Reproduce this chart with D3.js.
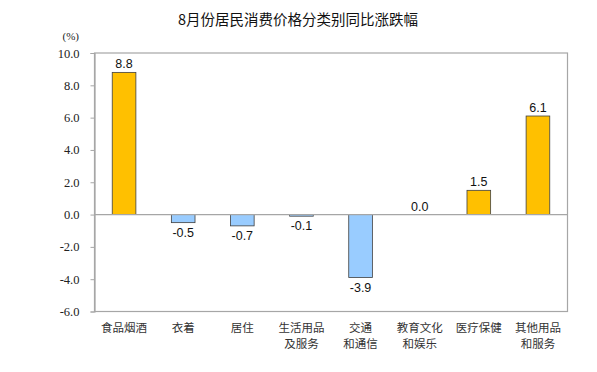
<!DOCTYPE html>
<html>
<head>
<meta charset="utf-8">
<script src="https://cdn.jsdelivr.net/npm/d3@7"></script>
<style>
body { margin: 0; background: #fff; }
</style>
</head>
<body>
<div id="chart"></div>
<script>
var categories = [["食品烟酒"], ["衣着"], ["居住"], ["生活用品", "及服务"], ["交通", "和通信"], ["教育文化", "和娱乐"], ["医疗保健"], ["其他用品", "和服务"]];
var values = [8.8, -0.5, -0.7, -0.1, -3.9, 0.0, 1.5, 6.1];
var yTicks = [10, 8, 6, 4, 2, 0, -2, -4, -6];
var title = "8月份居民消费价格分类别同比涨跌幅";

var width = 597, height = 372;
var margins = { left: 94.5, right: 29.5, top: 53, bottom: 60.5 };

// plain hyphen for negatives, as in the source image
var fmt = function(d) { return d.toFixed(1); };

var svg = d3.select("#chart")
	.append("svg")
	.attr("width", width)
	.attr("height", height)
	.style("background", "#fff");

var x = d3.scaleBand()
	.domain(d3.range(categories.length))
	.range([margins.left, width - margins.right])
	.paddingInner(0.6)
	.paddingOuter(0.3);

var y = d3.scaleLinear()
	.domain([-6, 10])
	.range([height - margins.bottom, margins.top]);

// title
svg.append("text")
	.attr("x", 298)
	.attr("y", 25)
	.attr("text-anchor", "middle")
	.style("font-family", "'Noto Sans CJK SC', sans-serif")
	.style("font-size", "14.5px")
	.style("fill", "#111")
	.text(title);

svg.append("text")
	.attr("x", 79)
	.attr("y", 40)
	.attr("text-anchor", "end")
	.style("font-family", "'Liberation Serif', serif")
	.style("font-size", "11px")
	.style("fill", "#222")
	.text("(%)");

// frame
svg.append("rect")
	.attr("x", margins.left)
	.attr("y", margins.top)
	.attr("width", width - margins.right - margins.left)
	.attr("height", height - margins.bottom - margins.top)
	.style("fill", "none")
	.style("stroke", "#a6a6a6")
	.style("stroke-width", 1.2);

// y axis
var yAxis = svg.append("g")
	.attr("transform", "translate(" + margins.left + ",0)")
	.call(d3.axisLeft(y).tickValues(yTicks).tickSize(4).tickPadding(11).tickFormat(fmt));
yAxis.select(".domain").style("stroke", "#a6a6a6").style("stroke-width", 1.2);
yAxis.selectAll(".tick line").style("stroke", "#a6a6a6");
yAxis.selectAll(".tick text")
	.style("font-family", "'Liberation Serif', serif")
	.style("font-size", "12.5px")
	.style("fill", "#222");

// bars
svg.selectAll(".bar")
	.data(values)
	.enter()
	.append("rect")
	.attr("class", "bar")
	.attr("x", function(d, i) { return x(i); })
	.attr("y", function(d) { return y(Math.max(0, d)); })
	.attr("width", x.bandwidth())
	.attr("height", function(d) { return Math.abs(y(d) - y(0)); })
	.style("fill", function(d) { return d >= 0 ? "#ffc000" : "#99ccff"; })
	.style("stroke", "#404040")
	.style("stroke-width", 0.8)
	.style("display", function(d) { return d === 0 ? "none" : null; });

// zero line
svg.append("line")
	.attr("x1", margins.left)
	.attr("x2", width - margins.right)
	.attr("y1", y(0))
	.attr("y2", y(0))
	.style("stroke", "#a6a6a6")
	.style("stroke-width", 1.2);

// value labels
svg.selectAll(".val")
	.data(values)
	.enter()
	.append("text")
	.attr("class", "val")
	.attr("x", function(d, i) { return x(i) + x.bandwidth() / 2; })
	.attr("y", function(d) { return d >= 0 ? y(d) - 4 : y(d) + 14; })
	.attr("text-anchor", "middle")
	.style("font-family", "'Liberation Sans', Arial, sans-serif")
	.style("font-size", "12.5px")
	.style("fill", "#111")
	.text(fmt);

// category labels
var cat = svg.selectAll(".cat")
	.data(categories)
	.enter()
	.append("text")
	.attr("class", "cat")
	.attr("text-anchor", "middle")
	.style("font-family", "'Noto Sans CJK SC', sans-serif")
	.style("font-size", "11.5px")
	.style("fill", "#333");
cat.selectAll("tspan")
	.data(function(d, i) { return d.map(function(s) { return { s: s, i: i }; }); })
	.enter()
	.append("tspan")
	.attr("x", function(d) { return x(d.i) + x.bandwidth() / 2; })
	.attr("y", function(d, j) { return height - margins.bottom + 20 + j * 16; })
	.text(function(d) { return d.s; });
</script>
</body>
</html>
